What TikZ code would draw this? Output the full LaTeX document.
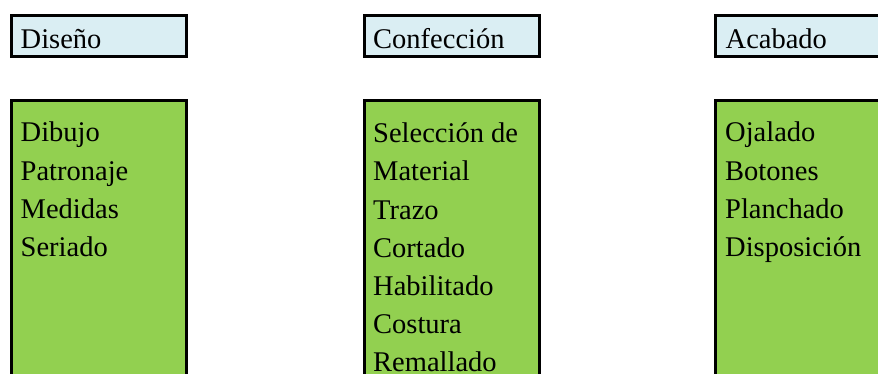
\documentclass[tikz,border=0pt]{standalone}
\usepackage{fontspec}
\setmainfont{Liberation Serif}
\definecolor{hdr}{HTML}{DAEEF3}
\definecolor{grn}{HTML}{92D050}
\begin{document}
\begin{tikzpicture}[x=1pt,y=-1pt,
  hbox/.style={line width=3pt, draw=black, fill=hdr},
  gline/.style={line width=3pt, draw=black},
  lbl/.style={anchor=base west, inner sep=0pt, font=\fontsize{28.5}{34}\selectfont}]
\useasboundingbox (0,0) rectangle (878,374);
\clip (0,0) rectangle (878,374);
% header boxes
\draw[hbox] (11.7,15.5) rectangle (186.7,56.8);
\draw[hbox] (364.2,15.5) rectangle (539,56.8);
\draw[hbox] (715.7,15.5) rectangle (900,56.8);
% green boxes (open at the bottom)
\fill[grn] (11.7,100.5) rectangle (186.7,390);
\fill[grn] (364.2,100.5) rectangle (539,390);
\fill[grn] (715.7,100.5) rectangle (900,390);
\draw[gline] (11.7,390) -- (11.7,100.5) -- (186.7,100.5) -- (186.7,390);
\draw[gline] (364.2,390) -- (364.2,100.5) -- (539,100.5) -- (539,390);
\draw[gline] (715.7,390) -- (715.7,100.5) -- (900,100.5);
% header texts
\node[lbl] (t1) at (20.5,48.3) {Diseño};
\node[lbl] (t2) at (373,48.3) {Confección};
\node[lbl] (t3) at (725.5,48.3) {Acabado};
% column 1
\node[lbl] (a1) at (20.5,141.8) {Dibujo};
\node[lbl] (a2) at (20.5,180.3) {Patronaje};
\node[lbl] (a3) at (20.5,218.8) {Medidas};
\node[lbl] (a4) at (20.5,256.5) {Seriado};
% column 2
\node[lbl] (b1) at (373,142.5) {Selección de};
\node[lbl] (b2) at (373,180.8) {Material};
\node[lbl] (b3) at (373,219) {Trazo};
\node[lbl] (b4) at (373,257) {Cortado};
\node[lbl] (b5) at (373,295) {Habilitado};
\node[lbl] (b6) at (373,333) {Costura};
\node[lbl] (b7) at (373,371) {Remallado};
% column 3
\node[lbl] (c1) at (725,141.8) {Ojalado};
\node[lbl] (c2) at (725,180.3) {Botones};
\node[lbl] (c3) at (725,218.8) {Planchado};
\node[lbl] (c4) at (725,256.5) {Disposición};
\end{tikzpicture}
\end{document}
